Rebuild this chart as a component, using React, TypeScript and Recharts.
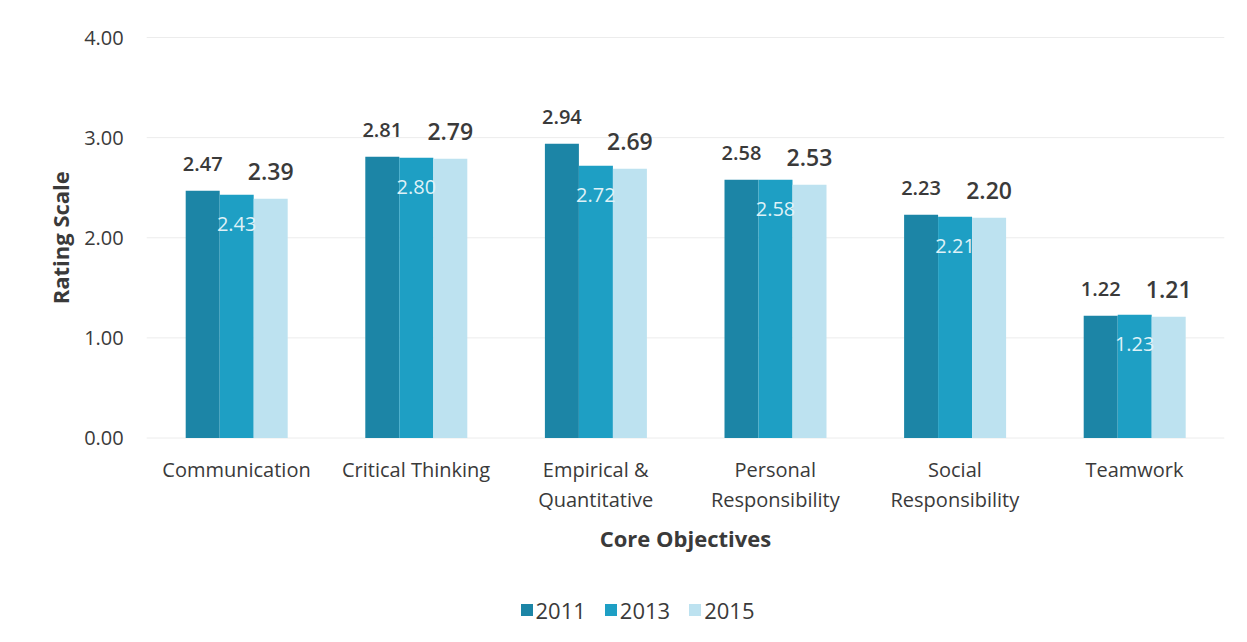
import React from "react";
import {
  BarChart,
  Bar,
  XAxis,
  YAxis,
  CartesianGrid,
  Legend,
  LabelList,
} from "recharts";

const categories = [
  "Communication",
  "Critical Thinking",
  "Empirical &\nQuantitative",
  "Personal\nResponsibility",
  "Social\nResponsibility",
  "Teamwork",
];
const values2011 = [2.47, 2.81, 2.94, 2.58, 2.23, 1.22];
const values2013 = [2.43, 2.8, 2.72, 2.58, 2.21, 1.23];
const values2015 = [2.39, 2.79, 2.69, 2.53, 2.2, 1.21];
const yTicks = [0, 1, 2, 3, 4];

const series = [
  { key: "2011", color: "#1c85a6" },
  { key: "2013", color: "#1e9fc4" },
  { key: "2015", color: "#bde2f0" },
];

const chartData = categories.map((name, i) => ({
  name,
  "2011": values2011[i],
  "2013": values2013[i],
  "2015": values2015[i],
}));

const textColor = "#3a3a3a";
const fmt = (v: any) => Number(v).toFixed(2);

// multi-line category labels
const CategoryTick = ({ x, y, payload }: any) => {
  const lines = String(payload.value).split("\n");
  return (
    <text x={x} y={y} textAnchor="middle" fill={textColor} fontSize={20}>
      {lines.map((line, i) => (
        <tspan key={i} x={x} dy={i === 0 ? 39 : 30}>
          {line}
        </tspan>
      ))}
    </text>
  );
};

const renderLegend = () => (
  <div
    style={{
      display: "flex",
      justifyContent: "center",
      alignItems: "center",
      paddingLeft: 28,
      height: 24,
      lineHeight: "24px",
      fontSize: 22,
      color: textColor,
    }}
  >
    {series.map((s, i) => (
      <span
        key={s.key}
        style={{
          display: "flex",
          alignItems: "center",
          marginRight: i < series.length - 1 ? 19 : 0,
        }}
      >
        <span
          style={{
            width: 12,
            height: 12,
            background: s.color,
            marginRight: 3,
            display: "inline-block",
          }}
        />
        {s.key}
      </span>
    ))}
  </div>
);

export default function App() {
  return (
    <div style={{ fontFamily: "'Open Sans', sans-serif", background: "#fff" }}>
      <style>{"body{margin:0;}"}</style>
      <BarChart
        width={1247}
        height={642}
        data={chartData}
        margin={{ top: 37.5, right: 22.7, left: 0, bottom: 20 }}
        barGap={0}
        barSize={34}
      >
        <CartesianGrid vertical={false} stroke="#ececec" />
        <XAxis
          dataKey="name"
          axisLine={false}
          tickLine={false}
          tickSize={0}
          tickMargin={0}
          height={160}
          interval={0}
          tick={<CategoryTick />}
          label={{
            value: "Core Objectives",
            position: "insideBottom",
            offset: 51,
            fill: textColor,
            fontSize: 22,
            fontWeight: 700,
          }}
        />
        <YAxis
          width={146.7}
          domain={[0, 4]}
          ticks={yTicks}
          tickFormatter={fmt}
          axisLine={false}
          tickLine={false}
          tickSize={0}
          tickMargin={23}
          tick={{ fill: textColor, fontSize: 20 }}
          label={{
            value: "Rating Scale",
            angle: -90,
            position: "insideLeft",
            offset: 61,
            fill: textColor,
            fontSize: 22,
            fontWeight: 700,
            style: { textAnchor: "middle" },
          }}
        />
        <Legend
          verticalAlign="bottom"
          content={renderLegend}
          wrapperStyle={{ left: 0, width: 1247 }}
        />
        <Bar dataKey="2011" fill={series[0].color} isAnimationActive={false}>
          <LabelList
            dataKey="2011"
            position="top"
            offset={20}
            formatter={fmt}
            fill={textColor}
            fontSize={20}
            fontWeight={600}
          />
        </Bar>
        <Bar dataKey="2013" fill={series[1].color} isAnimationActive={false}>
          <LabelList
            dataKey="2013"
            position="insideTop"
            offset={22}
            formatter={fmt}
            fill="#dff1f7"
            fontSize={20}
          />
        </Bar>
        <Bar dataKey="2015" fill={series[2].color} isAnimationActive={false}>
          <LabelList
            dataKey="2015"
            position="top"
            offset={19}
            formatter={fmt}
            fill={textColor}
            fontSize={23}
            fontWeight={600}
          />
        </Bar>
      </BarChart>
    </div>
  );
}
